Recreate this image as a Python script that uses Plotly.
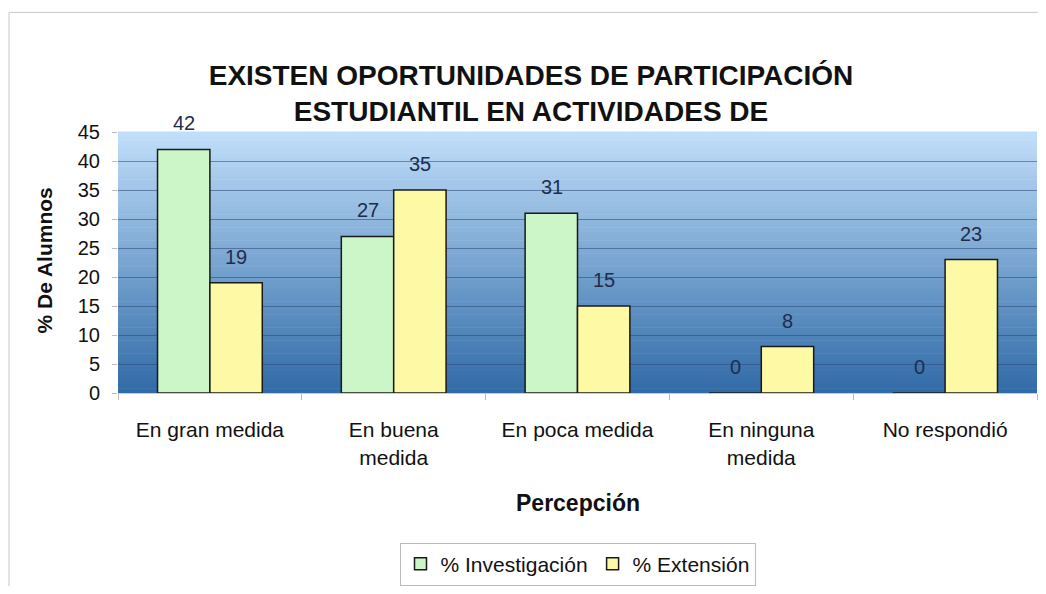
import plotly.graph_objects as go

categories = ["En gran medida", "En buena<br>medida", "En poca medida", "En ninguna<br>medida", "No respondió"]
investigacion = [42, 27, 31, 0, 0]
extension = [19, 35, 15, 8, 23]
series_names = ["% Investigación", "% Extensión"]
y_ticks = [0, 5, 10, 15, 20, 25, 30, 35, 40, 45]

OFF = 8  # page body margin
W, H = 1030, 578
# plot area in screen pixels: x 118..1037, y 132..396
L = 118 - OFF
T = 132 - OFF
PW = 1037 - 118
PH = 396 - 132
R = W - L - PW
B = H - T - PH
FONT = "Liberation Sans, Arial, sans-serif"

def px(xs):
    return (xs - OFF - L) / PW

def py(ys):
    return (T + PH - (ys - OFF)) / PH

fig = go.Figure()
bar_colors = ["#ccf5c8", "#fdf9a4"]
for name, vals, col in zip(series_names, [investigacion, extension], bar_colors):
    fig.add_trace(go.Bar(
        x=categories, y=vals, name=name,
        marker=dict(color=col, line=dict(color="#1a1a1a", width=1.5)),
    ))

# data labels
label_font = dict(family=FONT, size=20, color="#1f2d4d")
for vals, shift in [(investigacion, -26), (extension, 26)]:
    for c, v in zip(categories, vals):
        fig.add_annotation(x=c, y=v, text=str(v), showarrow=False, xshift=shift,
                           yanchor="middle", yshift=26, font=label_font)

# gradient background
N = 60
top = (192, 222, 250)
bot = (50, 108, 168)
for i in range(N):
    t = i / (N - 1)
    c = tuple(int(bot[k] + (top[k] - bot[k]) * t) for k in range(3))
    fig.add_shape(type="rect", xref="x domain", yref="y domain",
                  x0=0, x1=1, y0=i / N, y1=(i + 1) / N + 0.002,
                  fillcolor="rgb(%d,%d,%d)" % c, line=dict(width=0), layer="below")

# outer frame (top and left visible)
fig.add_shape(type="rect", xref="paper", yref="paper",
              x0=px(9), x1=px(1060), y0=py(620), y1=py(11),
              line=dict(color="#c8c8c8", width=1), fillcolor="rgba(0,0,0,0)", layer="below")

# axis titles
fig.add_annotation(xref="paper", yref="paper", x=0.5, y=py(507), text="<b>Percepción</b>",
                   showarrow=False, yanchor="middle",
                   font=dict(family=FONT, size=23, color="#111"))
fig.add_annotation(xref="paper", yref="paper", x=px(45), y=py(262), text="<b>% De Alumnos</b>",
                   textangle=-90, showarrow=False, xanchor="center", yanchor="middle",
                   font=dict(family=FONT, size=21, color="#111"))

fig.update_layout(
    width=W, height=H,
    margin=dict(l=L, r=R, t=T, b=B),
    paper_bgcolor="white", plot_bgcolor="rgba(0,0,0,0)",
    barmode="group", bargap=0.43, bargroupgap=0,
    title=dict(text="<b>EXISTEN OPORTUNIDADES DE PARTICIPACIÓN<br>ESTUDIANTIL EN ACTIVIDADES DE</b>",
               xref="paper", x=px(531), xanchor="center",
               yref="container", y=1 - (85 - OFF) / H, yanchor="middle",
               font=dict(family=FONT, size=28, color="#111")),
    showlegend=True,
    legend=dict(orientation="h", x=0.5, xanchor="center", y=py(569), yanchor="middle",
                bordercolor="#bbbbbb", borderwidth=1, bgcolor="white",
                font=dict(family=FONT, size=21, color="#111"),
                itemwidth=30),
    font=dict(family=FONT, color="#111"),
)
fig.update_xaxes(tickson="boundaries", ticks="outside", ticklen=6, tickcolor="#bbbbbb",
                 showline=True, linecolor="#cccccc", showgrid=False, ticklabelstandoff=18,
                 tickfont=dict(size=21, color="#111"))
fig.update_yaxes(range=[0, 45], tickvals=y_ticks, showgrid=True, gridcolor="rgba(40,70,120,0.55)",
                 gridwidth=1, zeroline=False, ticks="outside", ticklen=5, tickcolor="#bbbbbb",
                 ticklabelstandoff=8,
                 tickfont=dict(size=20, color="#111"))

fig.write_html("out.html")
